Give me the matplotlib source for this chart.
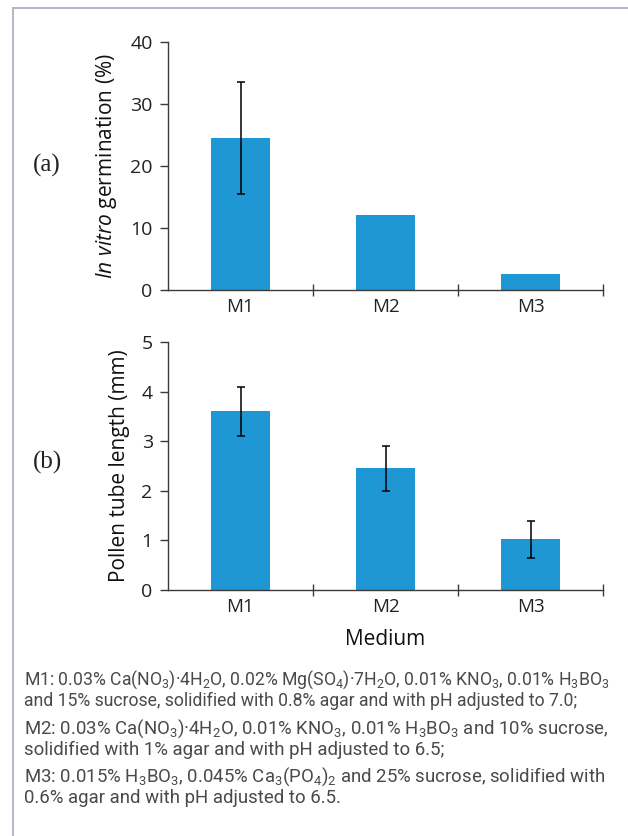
import matplotlib
matplotlib.use("Agg")
import matplotlib.pyplot as plt

# data
MEDIA = ["M1", "M2", "M3"]
GERM = [24.5, 12.1, 2.6]
GERM_ERR = [9.0, 0, 0]
TUBE = [3.6, 2.45, 1.02]
TUBE_ERR = [0.5, 0.46, 0.37]

CAPTION = [
    "M1: 0.03% Ca(NO$_3$)·4H$_2$O, 0.02% Mg(SO$_4$)·7H$_2$O, 0.01% KNO$_3$, 0.01% H$_3$BO$_3$",
    "and 15% sucrose, solidified with 0.8% agar and with pH adjusted to 7.0;",
    "M2: 0.03% Ca(NO$_3$)·4H$_2$O, 0.01% KNO$_3$, 0.01% H$_3$BO$_3$ and 10% sucrose,",
    "solidified with 1% agar and with pH adjusted to 6.5;",
    "M3: 0.015% H$_3$BO$_3$, 0.045% Ca$_3$(PO$_4$)$_2$ and 25% sucrose, solidified with",
    "0.6% agar and with pH adjusted to 6.5.",
]
CAP_Y = [680, 701, 729, 750, 777, 798]
CAP_SIZE = [12.7, 12.7, 13.4, 13.4, 13.4, 13.4]

BAR = "#1f97d4"
AX = "#3a3a3a"

plt.rcParams["font.family"] = "Open Sans"
plt.rcParams["mathtext.fontset"] = "custom"
plt.rcParams["mathtext.rm"] = "Roboto"
plt.rcParams["mathtext.it"] = "Open Sans:italic"

fig = plt.figure(figsize=(6.28, 8.36), dpi=100)
W, H = 628, 836

# frame lines (left + top)
fig.add_artist(plt.Line2D([13 / W, 13 / W], [0, 1 - 8 / H], color="#b4b4c4", lw=1.4))
fig.add_artist(plt.Line2D([13 / W, 1], [1 - 8 / H, 1 - 8 / H], color="#b4b4c4", lw=1.4))


def panel(rect, vals, errs, ymax, step, ylabel, tag, tag_y):
    ax = fig.add_axes(rect)
    x = list(range(len(MEDIA)))
    ax.bar(x, vals, width=0.41, color=BAR, zorder=2)
    show = [i for i, e in enumerate(errs) if e > 0]
    ax.errorbar([x[i] for i in show], [vals[i] for i in show], yerr=[errs[i] for i in show],
                fmt="none", ecolor="black", elinewidth=1.1, capsize=3, capthick=1.1, zorder=3)
    ax.set_xlim(-0.5, 2.5)
    ax.set_ylim(0, ymax)
    ax.set_yticks([v * step for v in range(int(ymax / step) + 1)])
    ax.set_xticks(x)
    ax.set_xticklabels(MEDIA)
    ax.set_xticks([0.5, 1.5, 2.5], minor=True)
    for s in ["top", "right"]:
        ax.spines[s].set_visible(False)
    for s in ["left", "bottom"]:
        ax.spines[s].set_color(AX)
        ax.spines[s].set_linewidth(1.0)
    ax.tick_params(axis="y", direction="out", length=6, width=1.0, color=AX,
                   labelsize=14, labelcolor="#222222", pad=5)
    ax.tick_params(axis="x", which="major", length=0, labelsize=13.5,
                   labelcolor="#222222", pad=6)
    ax.tick_params(axis="x", which="minor", direction="inout", length=8, width=1.0, color=AX)
    ax.set_ylabel(ylabel, fontsize=15, color="#111111", labelpad=8)
    fig.text(47 / W, 1 - tag_y / H, tag, family="Liberation Serif", fontsize=18,
             ha="center", va="center", color="#222222")
    return ax


panel([168 / W, 1 - 290 / H, 435 / W, 248 / H], GERM, GERM_ERR, 40, 10,
      r"$\mathit{In\ vitro}$ germination (%)", "(a)", 165)
axb = panel([168 / W, 1 - 590 / H, 435 / W, 248 / H], TUBE, TUBE_ERR, 5, 1,
            "Pollen tube length (mm)", "(b)", 462)
axb.set_xlabel("Medium", fontsize=15, color="#111111", labelpad=9)

for line, yy, fs in zip(CAPTION, CAP_Y, CAP_SIZE):
    fig.text(24 / W, 1 - yy / H, line, family="Roboto", fontsize=fs,
             color="#4a4a4a", ha="left", va="center")

fig.savefig("out.png", dpi=100)
